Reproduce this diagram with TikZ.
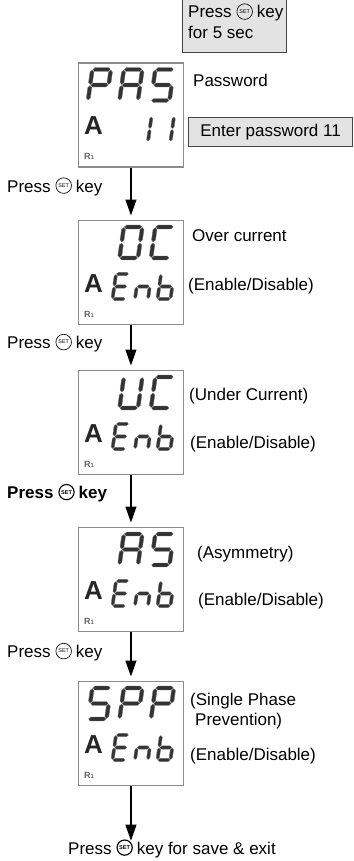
\documentclass[tikz,border=0pt]{standalone}
\usepackage{fontspec}
\setmainfont{Liberation Sans}
\usetikzlibrary{arrows.meta,calc}
\definecolor{boxgray}{HTML}{E3E3E3}
\definecolor{edgegray}{HTML}{444444}
\definecolor{dispedge}{HTML}{8C8C8C}
\definecolor{segfill}{HTML}{333333}
\definecolor{segedge}{HTML}{6E6E6E}
\definecolor{rgray}{HTML}{666666}

\newcommand{\hseg}[3]{\filldraw[segstyle] ({#1+\sgG},{#3}) -- ({#1+\sgG+\sgT/2},{#3+\sgT/2}) -- ({#2-\sgG-\sgT/2},{#3+\sgT/2}) -- ({#2-\sgG},{#3}) -- ({#2-\sgG-\sgT/2},{#3-\sgT/2}) -- ({#1+\sgG+\sgT/2},{#3-\sgT/2}) -- cycle;}
\newcommand{\vseg}[3]{\filldraw[segstyle] ({#1},{#2+\sgG}) -- ({#1+\sgT/2},{#2+\sgG+\sgT/2}) -- ({#1+\sgT/2},{#3-\sgG-\sgT/2}) -- ({#1},{#3-\sgG}) -- ({#1-\sgT/2},{#3-\sgG-\sgT/2}) -- ({#1-\sgT/2},{#2+\sgG+\sgT/2}) -- cycle;}
\newcommand{\sgsega}{\hseg{0}{\sgW}{\sgH}}
\newcommand{\sgsegb}{\vseg{\sgW}{\sgH/2}{\sgH}}
\newcommand{\sgsegc}{\vseg{\sgW}{0}{\sgH/2}}
\newcommand{\sgsegd}{\hseg{0}{\sgW}{0}}
\newcommand{\sgsege}{\vseg{0}{0}{\sgH/2}}
\newcommand{\sgsegf}{\vseg{0}{\sgH/2}{\sgH}}
\newcommand{\sgsegg}{\hseg{0}{\sgW}{\sgH/2}}
\newcommand{\sdigit}[6]{\begin{scope}[shift={({#1},{#2})},y=1pt,xslant=0.14]\def\sgW{#3}\def\sgH{#4}\def\sgT{#5}\def\sgG{0.6}\foreach \s in {#6}{\csname sgseg\s\endcsname}\end{scope}}
\newcommand{\bigch}[3]{\sdigit{#1}{#2}{18.5}{31}{3.9}{#3}}
\newcommand{\smallch}[3]{\sdigit{#1}{#2}{13}{25}{3.2}{#3}}

% name, position, text style, icon style, rest of text
\newcommand{\presskey}[5]{%
  \node[anchor=base west, #3] (#1) at (#2) {Press};
  \node[#4] (#1i) at ($(#1.base east)+(12.8,-6.4)$) {SET};
  \node[anchor=base west, #3] (#1k) at ($(#1.base east)+(24.8,0)$) {#5};
}

\newcommand{\screen}[2]{%
  \node[dispbox, anchor=north west] (#1) at (78,#2) {};
  \node[alabel, anchor=base west] (#1A) at (84,{#2+72.5}) {A};
  \node[rlabel, anchor=base west] (#1R) at (84,{#2+97.5}) {R{\fontsize{6}{6}\selectfont 1}};
}

\begin{document}
\begin{tikzpicture}[x=1pt,y=-1pt,
  every node/.style={font=\fontsize{17}{20}\selectfont, inner sep=0pt},
  graybox/.style={fill=boxgray, draw=edgegray, line width=1.2pt, inner sep=0pt},
  dispbox/.style={fill=white, draw=dispedge, line width=1.4pt, minimum width=104.5pt, minimum height=104pt, inner sep=0pt},
  alabel/.style={font=\fontsize{26}{26}\selectfont\bfseries, text=black!85},
  rlabel/.style={font=\fontsize{9}{9}\selectfont\bfseries, text=rgray},
  segstyle/.style={fill=segfill, draw=segedge, line width=0.35pt},
  keyicon/.style={circle, draw, line width=0.65pt, minimum size=15.6pt, inner sep=0pt, font=\fontsize{5.4}{5}\selectfont},
  keyiconb/.style={circle, draw, line width=1.15pt, minimum size=15.2pt, inner sep=0pt, font=\fontsize{5.6}{5}\selectfont\bfseries},
  boldtext/.style={font=\fontsize{17}{20}\selectfont\bfseries},
  arr/.style={-{Triangle[width=11pt,length=16pt]}, line width=1.2pt, shorten >=4.5pt}]
\useasboundingbox (0,0) rectangle (353,861);

% start box
\node[graybox, anchor=north west, minimum width=104pt, minimum height=54pt] (start) at (182,-2) {};
\presskey{st}{188,18}{}{keyicon}{key}
\node[anchor=base west] (st2) at (188,38.3) {for 5 sec};

% screen 1: PAS / 11
\screen{b1}{62.5}
\bigch{88}{100.5}{a,b,f,g,e}
\bigch{119.5}{100.5}{a,b,c,e,f,g}
\bigch{151}{100.5}{a,f,g,c,d}
\smallch{135}{141.5}{b,c}
\smallch{157.5}{141.5}{b,c}
\node[anchor=base west] (t1) at (193,87) {Password};
\node[graybox, anchor=north west, minimum width=164pt, minimum height=29pt] (pw) at (188,117) {Enter password 11};
\presskey{p1}{7,192}{}{keyicon}{key}

% screen 2: OC / Enb
\screen{b2}{220}
\bigch{119.5}{258}{a,b,c,d,e,f}
\bigch{151}{258}{a,f,e,d}
\smallch{112.5}{299}{a,f,g,e,d}
\smallch{135}{299}{g,c,e}
\smallch{157.5}{299}{f,e,d,c,g}
\node[anchor=base west] (t2) at (192,241.5) {Over current};
\node[anchor=base west] (e2) at (188,290) {(Enable/Disable)};
\presskey{p2}{7,348.5}{}{keyicon}{key}

% screen 3: UC / Enb
\screen{b3}{370}
\bigch{119.5}{408}{b,c,d,e,f}
\bigch{151}{408}{a,f,e,d}
\smallch{112.5}{449}{a,f,g,e,d}
\smallch{135}{449}{g,c,e}
\smallch{157.5}{449}{f,e,d,c,g}
\node[anchor=base west] (t3) at (189,400) {(Under Current)};
\node[anchor=base west] (e3) at (190,448) {(Enable/Disable)};
\presskey{p3}{7,498.5}{boldtext}{keyiconb}{key}

% screen 4: AS / Enb
\screen{b4}{527}
\bigch{119.5}{565}{a,b,c,e,f,g}
\bigch{151}{565}{a,f,g,c,d}
\smallch{112.5}{606}{a,f,g,e,d}
\smallch{135}{606}{g,c,e}
\smallch{157.5}{606}{f,e,d,c,g}
\node[anchor=base west] (t4) at (197,558) {(Asymmetry)};
\node[anchor=base west] (e4) at (198,605) {(Enable/Disable)};
\presskey{p4}{7,657.5}{}{keyicon}{key}

% screen 5: SPP / Enb
\screen{b5}{681}
\bigch{88}{719}{a,f,g,c,d}
\bigch{119.5}{719}{a,b,f,g,e}
\bigch{151}{719}{a,b,f,g,e}
\smallch{112.5}{760}{a,f,g,e,d}
\smallch{135}{760}{g,c,e}
\smallch{157.5}{760}{f,e,d,c,g}
\node[anchor=base west] (t5a) at (190,705) {(Single Phase};
\node[anchor=base west] (t5b) at (195,725) {Prevention)};
\node[anchor=base west] (e5) at (190,760) {(Enable/Disable)};

\presskey{fin}{68,854}{}{keyiconb}{key for save \& exit}

% arrows
\draw[arr] (b1) -- (b2);
\draw[arr] (b2) -- (b3);
\draw[arr] (b3) -- (b4);
\draw[arr] (b4) -- (b5);
\draw[arr, shorten >=1.5pt] (b5.south) -- (b5.south |- fin.north);
\end{tikzpicture}
\end{document}
